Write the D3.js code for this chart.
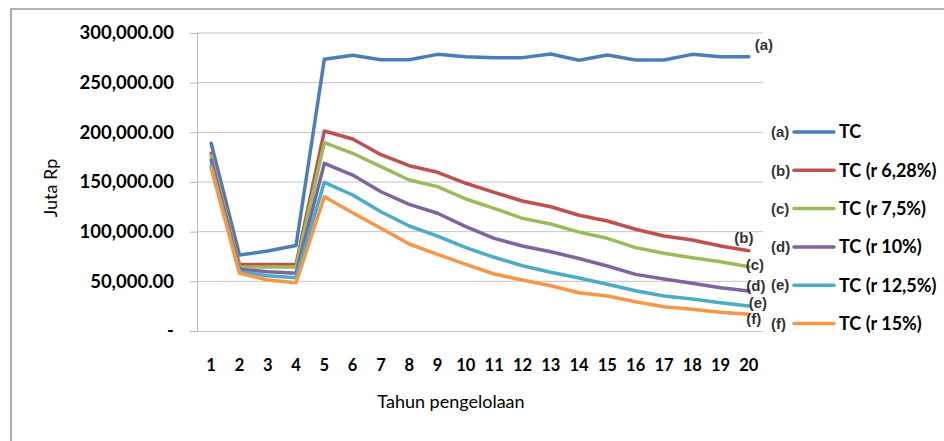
<!DOCTYPE html>
<html><head><meta charset="utf-8">
<script src="https://cdn.jsdelivr.net/npm/d3@7"></script>
<style>body{margin:0;background:#fff}svg{display:block}</style>
</head><body>
<svg id="c" width="944" height="441"></svg>
<script>
const years = d3.range(1, 21).map(String);
const yTicks = [0, 50000, 100000, 150000, 200000, 250000, 300000];
const seriesNames = ["TC", "TC (r 6,28%)", "TC (r 7,5%)", "TC (r 10%)", "TC (r 12,5%)", "TC (r 15%)"];
const seriesTags = ["(a)", "(b)", "(c)", "(d)", "(e)", "(f)"];
const tcA = [189000, 76500, 80500, 86000, 273500, 277500, 273000, 273000, 278500, 276200, 275200, 275200, 278800, 272500, 277800, 272800, 272800, 278500, 276200, 276200];
const tcB = [178900, 67100, 67000, 67100, 201300, 193300, 177500, 166400, 159800, 148700, 139600, 130900, 125100, 116500, 110700, 102400, 95600, 91600, 85600, 80800];
const tcC = [176500, 64700, 64400, 64400, 189600, 178900, 165400, 152000, 145300, 132900, 123500, 113400, 107700, 99500, 93300, 83900, 78200, 73800, 69800, 64700];
const tcD = [172100, 62100, 59700, 58100, 168800, 157000, 140200, 127500, 118500, 105000, 93300, 85600, 79800, 73000, 65400, 57000, 52300, 48000, 43600, 40300];
const tcE = [167100, 59700, 55700, 53700, 149700, 136900, 120100, 105700, 95600, 83900, 74200, 65700, 59100, 53300, 47000, 40600, 35200, 32200, 28500, 25200];
const tcF = [163800, 58100, 51300, 48600, 135200, 119100, 103400, 87600, 77200, 67100, 57400, 51300, 45600, 38500, 35200, 29500, 24500, 21800, 18800, 16800];
const allSeries = [tcA, tcB, tcC, tcD, tcE, tcF];

const colors = ["#4a7ebb", "#c0504d", "#9bbb59", "#8064a2", "#4bacc6", "#f79646"];
const tagOffsets = [[15, -12], [-5, -13], [6, -2], [7, -5], [9, -3], [5, 4]];

const svg = d3.select("#c");
const pLeft = 197, pRight = 763, pTop = 33, pBottom = 331;
const x = d3.scaleBand().domain(years).range([pLeft, pRight]);
const y = d3.scaleLinear().domain([0, 300000]).range([pBottom, pTop]);

// outer frame
svg.append("path").attr("d", `M11,960 V9 H960`).attr("fill", "none").attr("stroke", "#9a9a9a").attr("stroke-width", 1.6);

// gridlines
svg.append("g").selectAll("line").data(yTicks.filter(d => d > 0)).join("line")
  .attr("x1", pLeft).attr("x2", pRight).attr("y1", d => y(d)).attr("y2", d => y(d))
  .attr("stroke", "#c4c4c4").attr("stroke-width", 1);

// y axis
const fmt = d => d === 0 ? "-" : d3.format(",.2f")(d);
const yAxis = svg.append("g").attr("transform", `translate(${pLeft},0)`)
  .call(d3.axisLeft(y).tickValues(yTicks).tickFormat(fmt).tickSize(7).tickPadding(16));
yAxis.select(".domain").attr("stroke", "#b8b8b8");
yAxis.selectAll(".tick line").attr("stroke", "#b8b8b8");
yAxis.selectAll("text").attr("font-family", "Lato, sans-serif").attr("font-size", 18.5).attr("font-weight", "bold").attr("fill", "#000");

// x axis
const xAxis = svg.append("g").attr("transform", `translate(0,${pBottom})`)
  .call(d3.axisBottom(x).tickSize(0).tickPadding(28));
xAxis.select(".domain").attr("stroke", "#c4c4c4");
xAxis.selectAll("text").attr("font-family", "Lato, sans-serif").attr("font-size", 16.5).attr("font-weight", "bold").attr("fill", "#000");

// axis titles
svg.append("text").attr("x", 451).attr("y", 408).attr("text-anchor", "middle")
  .attr("font-family", "Lato, sans-serif").attr("font-size", 18).attr("fill", "#000").text("Tahun pengelolaan");
svg.append("text").attr("transform", "translate(57,188) rotate(-90)").attr("text-anchor", "middle")
  .attr("font-family", "Lato, sans-serif").attr("font-size", 18).attr("fill", "#000").text("Juta Rp");

// lines
const line = d3.line().x((d, i) => x(years[i]) + x.bandwidth() / 2).y(d => y(d)).curve(d3.curveLinear);
svg.append("g").selectAll("path").data(allSeries).join("path")
  .attr("d", line).attr("fill", "none").attr("stroke", (d, i) => colors[i])
  .attr("stroke-width", 3.5).attr("stroke-linejoin", "round").attr("stroke-linecap", "round");

// end tags
svg.append("g").selectAll("text").data(allSeries).join("text")
  .attr("x", (d, i) => x(years[19]) + x.bandwidth() / 2 + tagOffsets[i][0])
  .attr("y", (d, i) => y(d[19]) + tagOffsets[i][1])
  .attr("dy", "0.35em").attr("text-anchor", "middle")
  .attr("font-family", "'Liberation Sans', Arial, sans-serif").attr("font-size", 15).attr("font-weight", "bold").attr("fill", "#333")
  .text((d, i) => seriesTags[i]);

// legend
const lg = svg.append("g");
const legendY = i => 132 + i * 38.3;
seriesNames.forEach((name, i) => {
  lg.append("text").attr("x", 771).attr("y", legendY(i)).attr("dy", "0.35em")
    .attr("font-family", "'Liberation Sans', Arial, sans-serif").attr("font-size", 15).attr("font-weight", "bold").attr("fill", "#333").text(seriesTags[i]);
  lg.append("line").attr("x1", 794).attr("x2", 834).attr("y1", legendY(i)).attr("y2", legendY(i))
    .attr("stroke", colors[i]).attr("stroke-width", 3.5).attr("stroke-linecap", "round");
  lg.append("text").attr("x", 839).attr("y", legendY(i)).attr("dy", "0.36em")
    .attr("font-family", "Lato, sans-serif").attr("font-size", 18).attr("font-weight", "bold").attr("fill", "#000").text(name);
});
</script>
</body></html>
